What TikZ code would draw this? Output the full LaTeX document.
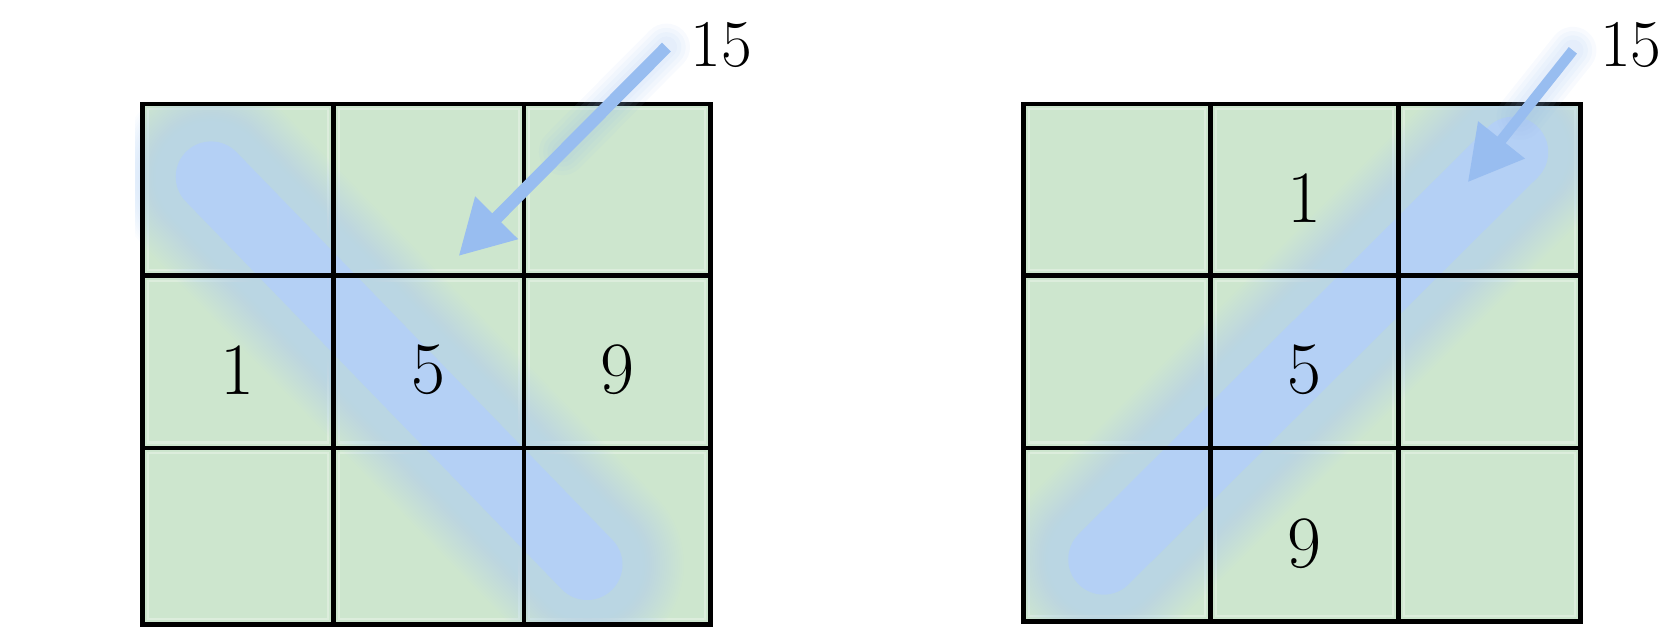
\documentclass[tikz,border=0pt]{standalone}
\usetikzlibrary{arrows.meta,calc}
\definecolor{cellgreen}{RGB}{205,230,206}
\definecolor{bandblue}{RGB}{180,208,245}
\definecolor{fadeblue}{RGB}{186,214,246}
\definecolor{arrowblue}{RGB}{152,189,240}
\newcommand\softband[2]{%
  \foreach \w in {180,176,...,72}{%
    \draw[fadeblue, line cap=round, opacity=0.05, line width=\w*0.010714cm] #1 -- #2;}
  \draw[bandblue, line cap=round, line width=66*0.010714cm] #1 -- #2;}
\newcommand\arrowglow[2]{%
  \foreach \w in {44,36,28,20}{%
    \draw[arrowblue, line cap=round, opacity=0.07, line width=\w*0.010714cm] #1 -- ($#1!0.5!#2$);}}
\begin{document}
\begin{tikzpicture}[x=0.010714cm, y=-0.010714cm,
  gridline/.style={black, line width=1.3pt, line join=miter},
  cellhl/.style={white, opacity=0.3, line width=0.6pt},
  digit/.style={font=\fontsize{21}{24}\selectfont, inner sep=0pt},
  sumlabel/.style={font=\fontsize{19}{22}\selectfont, inner sep=0pt},
  pointer/.style={arrowblue, line width=#1, -{Triangle[length=5.4mm, width=5.7mm]}}]
\useasboundingbox (0,0) rectangle (1568,597.33);
% ---------- left grid ----------
\fill[cellgreen] (133,97) rectangle (663,583);
\foreach \xa/\xb in {133/311,311/489,489/663}
  \foreach \ya/\yb in {97/257,257/418,418/583}
    \draw[cellhl] (\xa+5,\ya+5) rectangle (\xb-5,\yb-5);
\coordinate (LB1) at (197,165);
\coordinate (LB2) at (548,527);
\begin{scope}
  \clip (126,97) rectangle (663,583);
  \softband{(LB1)}{(LB2)}
\end{scope}
\draw[gridline] (133,97) rectangle (663,583);
\draw[gridline] (311,97) -- (311,583) (489,97) -- (489,583)
                (133,257) -- (663,257) (133,418) -- (663,418);
\node[digit] (l1) at (222,345) {1};
\node[digit] (l5) at (400,345) {5};
\node[digit] (l9) at (576,345) {9};
\node[sumlabel] (ls) at (673,42) {15};
\coordinate (la0) at (622,44);
\coordinate (la1) at (428,239);
\arrowglow{(la0)}{(la1)}
\draw[pointer=1.25mm] (la0) -- (la1);
% ---------- right grid ----------
\fill[cellgreen] (955,97) rectangle (1475,580);
\foreach \xa/\xb in {955/1130,1130/1305,1305/1475}
  \foreach \ya/\yb in {97/257,257/418,418/580}
    \draw[cellhl] (\xa+5,\ya+5) rectangle (\xb-5,\yb-5);
\coordinate (RB1) at (1030,522);
\coordinate (RB2) at (1412,142);
\begin{scope}
  \clip (955,97) rectangle (1475,580);
  \softband{(RB1)}{(RB2)}
\end{scope}
\draw[gridline] (955,97) rectangle (1475,580);
\draw[gridline] (1130,97) -- (1130,580) (1305,97) -- (1305,580)
                (955,257) -- (1475,257) (955,418) -- (1475,418);
\node[digit] (r1) at (1217,185) {1};
\node[digit] (r5) at (1217,345) {5};
\node[digit] (r9) at (1217,507) {9};
\node[sumlabel] (rs) at (1522,42) {15};
\coordinate (ra0) at (1468,47);
\coordinate (ra1) at (1370,170);
\arrowglow{(ra0)}{(ra1)}
\draw[pointer=1.05mm] (ra0) -- (ra1);
\end{tikzpicture}
\end{document}
